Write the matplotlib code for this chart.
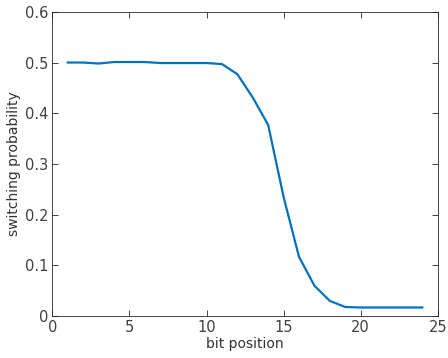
import matplotlib
matplotlib.use("Agg")
import matplotlib.pyplot as plt

bit_position = list(range(1, 25))
switching_probability = [0.500, 0.500, 0.498, 0.501, 0.501, 0.501, 0.499, 0.499, 0.499, 0.499,
                         0.497, 0.477, 0.431, 0.377, 0.235, 0.117, 0.060, 0.030, 0.018, 0.017,
                         0.017, 0.017, 0.017, 0.017]
xticks = [0, 5, 10, 15, 20, 25]
yticks = [0, 0.1, 0.2, 0.3, 0.4, 0.5, 0.6]
ytick_labels = ["0", "0.1", "0.2", "0.3", "0.4", "0.5", "0.6"]

fig = plt.figure(figsize=(4.48, 3.58), dpi=100)
ax = fig.add_axes([0.117, 0.117, 0.860, 0.850])
ax.plot(bit_position, switching_probability, color="#0072BD", linewidth=1.6)
ax.set_xlim(0, 25)
ax.set_ylim(0, 0.6)
ax.set_xticks(xticks)
ax.set_yticks(yticks)
ax.set_yticklabels(ytick_labels)
ax.tick_params(direction="in", top=True, right=True, length=4, width=0.6,
               colors="#262626", labelsize=10.5, labelcolor="#404040", pad=3)
for s in ax.spines.values():
    s.set_color("#262626")
    s.set_linewidth(0.6)
ax.set_xlabel("bit position", fontsize=10, color="#333333", labelpad=1)
ax.set_ylabel("switching probability", fontsize=10, color="#333333", labelpad=3)
fig.savefig("out.png", dpi=100)
